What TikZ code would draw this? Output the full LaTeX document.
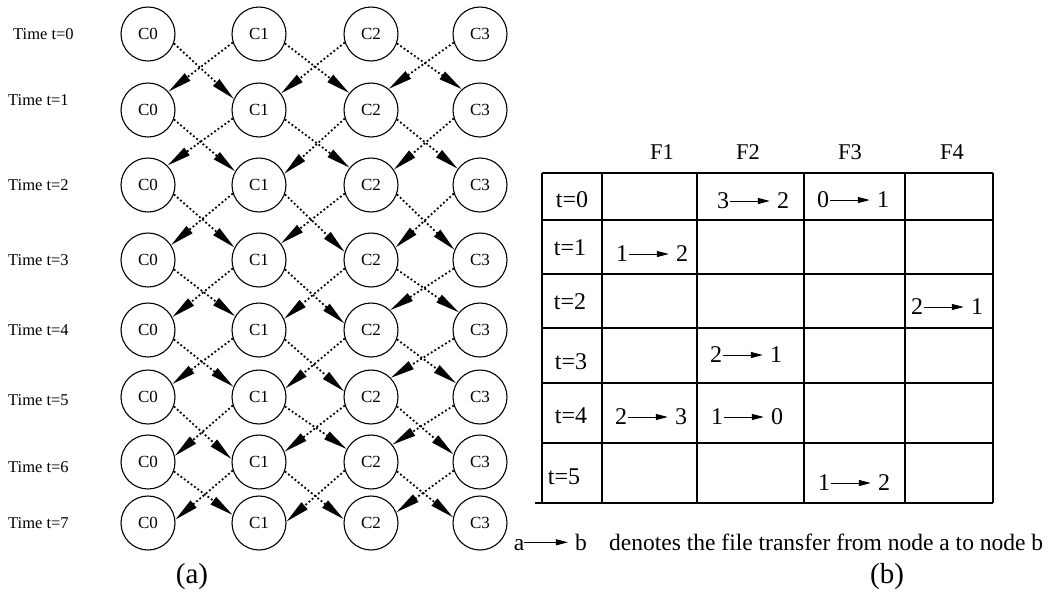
\documentclass[tikz,border=0pt]{standalone}
\usepackage{fontspec}
\setmainfont{Liberation Serif}
\usetikzlibrary{arrows.meta}

% one transfer entry "a -> b" centred at (x,y)
\newcommand{\xfer}[5]{%
  \node[cell] (#1a) at (#2-30,#3) {#4};
  \node[cell] (#1b) at (#2+30,#3) {#5};
  \draw[xarrow,shorten <=1pt,shorten >=7pt] (#1a.east) -- (#1b.west);
}

\begin{document}
\begin{tikzpicture}[x=1pt,y=-1pt,
  cnode/.style={circle,draw,line width=1.1pt,minimum size=54pt,inner sep=0pt,
                font=\fontsize{17}{17}\selectfont},
  tlabel/.style={anchor=west,inner sep=0pt,font=\fontsize{16.5}{16.5}\selectfont},
  flow/.style={line width=1.8pt,dash pattern=on 1.8pt off 2.4pt,
               -{Triangle[length=24pt,width=9pt]}},
  gridline/.style={line width=1.3pt},
  cell/.style={inner sep=0pt,font=\fontsize{24}{24}\selectfont},
  headtext/.style={inner sep=0pt,font=\fontsize{22.5}{22.5}\selectfont},
  legendtext/.style={inner sep=0pt,font=\fontsize{23.5}{23.5}\selectfont},
  captext/.style={inner sep=0pt,font=\fontsize{29}{29}\selectfont},
  xarrow/.style={line width=1pt,-{Triangle[length=12pt,width=6pt]}},
]
\useasboundingbox (0,0) rectangle (1063,598);

% ---------- (a) time-expanded graph ----------
\foreach \t/\y in {0/34,1/110,2/185,3/260,4/330,5/397,6/462,7/523} {
  \foreach \c/\x in {0/148,1/259,2/371,3/480} {
    \node[cnode] (c\t\c) at (\x,\y) {C\c};
  }
}
\foreach \t/\x/\y in {0/13/34,1/8/100,2/8/185,3/8/260,4/8/330,5/8/400,6/8/467,7/8/523} {
  \node[tlabel] (time\t) at (\x,\y) {Time t=\t};
}

% transfers between consecutive time steps:
% right-going end angles (C0->C1, C1->C2, C2->C3), left-going (C1->C0, C2->C1, C3->C2)
\foreach \g/\ra/\rb/\rc/\la/\lb/\lc in {
    0/156/142/131/42/37/50,
    1/150/141/144/45/24/34,
    2/153/163/158/33/37/27,
    3/150/166/140/28/24/46,
    4/158/168/150/28/18/44,
    5/174/152/164/13/22/39,
    6/163/172/168/7/3/23} {
  \pgfmathtruncatemacro{\h}{\g+1}
  \draw[flow] (c\g0.-20) -- (c\h1.\ra);
  \draw[flow] (c\g1.-20) -- (c\h2.\rb);
  \draw[flow] (c\g2.-20) -- (c\h3.\rc);
  \draw[flow] (c\g1.198) -- (c\h0.\la);
  \draw[flow] (c\g2.198) -- (c\h1.\lb);
  \draw[flow] (c\g3.198) -- (c\h2.\lc);
}

\node[captext] (capa) at (192,577) {(a)};

% ---------- (b) schedule table ----------
\foreach \x in {542,602,697,804,905,993} {
  \draw[gridline] (\x,173) -- (\x,503);
}
\foreach \y in {173,220,274,328,383,443} {
  \draw[gridline] (542,\y) -- (993,\y);
}
\draw[gridline] (535,503) -- (993,503);

\node[headtext] (f1) at (662,152) {F1};
\node[headtext] (f2) at (748,152) {F2};
\node[headtext] (f3) at (850,152) {F3};
\node[headtext] (f4) at (952,152) {F4};

\node[cell] (r0) at (572,200) {t=0};
\node[cell] (r1) at (570,248) {t=1};
\node[cell] (r2) at (570,302) {t=2};
\node[cell] (r3) at (571,362) {t=3};
\node[cell] (r4) at (571,416) {t=4};
\node[cell] (r5) at (564,477) {t=5};

\xfer{ea}{753}{201}{3}{2}
\xfer{eb}{853}{200}{0}{1}
\xfer{ec}{652}{254}{1}{2}
\xfer{ed}{947}{307}{2}{1}
\xfer{ee}{746}{355}{2}{1}
\xfer{ef}{651}{417}{2}{3}
\xfer{eg}{747}{417}{1}{0}
\xfer{eh}{854}{483}{1}{2}

% legend
\node[legendtext,anchor=base] (la) at (519,550) {a};
\node[legendtext,anchor=base] (lb) at (581,550) {b};
\draw[xarrow,shorten >=7pt] ([yshift=7.7pt]la.base east) -- ([yshift=7.7pt]lb.base west);
\node[legendtext,anchor=base west] (ltext) at (609,550) {denotes the file transfer from node a to node b};

\node[captext] (capb) at (887,577) {(b)};
\end{tikzpicture}
\end{document}
